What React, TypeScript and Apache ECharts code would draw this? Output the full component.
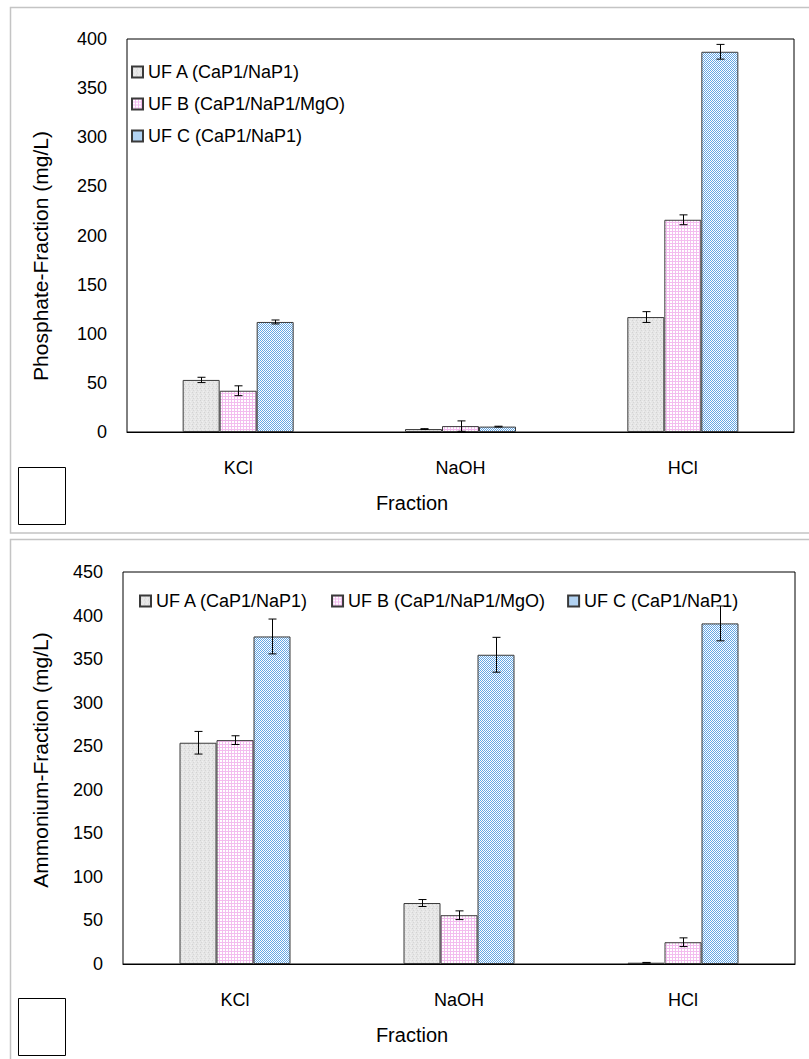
import React, { useEffect, useRef } from "react";
import * as echarts from "echarts";

const categories = ["KCl", "NaOH", "HCl"];
const seriesNames = ["UF A (CaP1/NaP1)", "UF B (CaP1/NaP1/MgO)", "UF C (CaP1/NaP1)"];

// Phosphate (top chart)
const phosphateA = [53, 3, 117];
const phosphateB = [42, 6, 216];
const phosphateC = [112, 5.5, 387];
const phosphateErrA = [2.7, 0.4, 5.5];
const phosphateErrB = [5, 5.3, 5];
const phosphateErrC = [2, 0.4, 7.5];

// Ammonium (bottom chart)
const ammoniumA = [254, 70, 1.5];
const ammoniumB = [257, 56, 25];
const ammoniumC = [376, 355, 391];
const ammoniumErrA = [13, 4, 0.3];
const ammoniumErrB = [5, 5, 5];
const ammoniumErrC = [20, 20, 20];

const phosphateMax = 400;
const ammoniumMax = 450;
const tickStep = 50;

const FONT = '"Liberation Sans", Arial, sans-serif';

function makePattern(size: number, draw: (ctx: CanvasRenderingContext2D) => void) {
  const c = document.createElement("canvas");
  c.width = size;
  c.height = size;
  const ctx = c.getContext("2d") as CanvasRenderingContext2D;
  draw(ctx);
  return { image: c, repeat: "repeat", imageWidth: size, imageHeight: size } as any;
}

function px(ctx: CanvasRenderingContext2D, x: number, y: number, color: string) {
  ctx.fillStyle = color;
  ctx.fillRect(x, y, 1, 1);
}

export default function App() {
  const ref = useRef<HTMLDivElement>(null);

  useEffect(() => {
    if (!ref.current) return;
    const chart = echarts.init(ref.current, null, { renderer: "svg" });

    const patA = makePattern(4, (ctx) => {
      ctx.fillStyle = "#e6e6e6";
      ctx.fillRect(0, 0, 4, 4);
      px(ctx, 0, 0, "#d2d2d2");
      px(ctx, 2, 1, "#f0f0f0");
      px(ctx, 1, 2, "#d6d6d6");
      px(ctx, 3, 3, "#efefef");
    });
    const patB = makePattern(3, (ctx) => {
      ctx.fillStyle = "#ffffff";
      ctx.fillRect(0, 0, 3, 3);
      ctx.fillStyle = "#f3bdef";
      ctx.fillRect(0, 0, 1, 3);
      ctx.fillRect(0, 0, 3, 1);
    });
    const patC = makePattern(2, (ctx) => {
      ctx.fillStyle = "#64a6e4";
      ctx.fillRect(0, 0, 2, 2);
      px(ctx, 1, 0, "#ffffff");
      px(ctx, 0, 1, "#ffffff");
    });
    const patterns = [patA, patB, patC];

    const barWidth = 37;
    const offsets = [-barWidth, 0, barWidth];

    const barSeries = (name: string, data: number[], idx: number, axis: number) => ({
      type: "bar",
      name,
      xAxisIndex: axis,
      yAxisIndex: axis,
      data,
      barWidth,
      barGap: "0%",
      itemStyle: { color: patterns[idx], borderColor: "#3a3a3a", borderWidth: 1 },
      z: 2,
    });

    const errSeries = (values: number[], errs: number[], idx: number, axis: number) => ({
      type: "custom",
      name: "err" + axis + "-" + idx,
      xAxisIndex: axis,
      yAxisIndex: axis,
      silent: true,
      z: 5,
      data: values.map((v, i) => [i, v, errs[i]]),
      encode: { x: 0, y: 1 },
      renderItem: (params: any, api: any) => {
        const ci = api.value(0);
        const v = api.value(1);
        const e = api.value(2);
        const hi = api.coord([ci, v + e]);
        const lo = api.coord([ci, Math.max(0, v - e)]);
        const x = Math.round(hi[0] + offsets[idx]) + 0.5;
        const w = 4;
        const style = { stroke: "#000", lineWidth: 1 };
        return {
          type: "group",
          children: [
            { type: "line", shape: { x1: x, y1: hi[1], x2: x, y2: lo[1] }, style },
            { type: "line", shape: { x1: x - w, y1: hi[1], x2: x + w, y2: hi[1] }, style },
            { type: "line", shape: { x1: x - w, y1: lo[1], x2: x + w, y2: lo[1] }, style },
          ],
        };
      },
    });

    const xAxisBase = (gridIndex: number) => ({
      type: "category",
      gridIndex,
      data: categories,
      boundaryGap: true,
      axisLine: { show: true, lineStyle: { color: "#000", width: 1 } },
      axisTick: { show: false },
      axisLabel: { color: "#000", fontSize: 18, fontFamily: FONT, margin: 27 },
      splitLine: { show: false },
    });
    const yAxisBase = (gridIndex: number, max: number) => ({
      type: "value",
      gridIndex,
      min: 0,
      max,
      interval: tickStep,
      axisLine: { show: false },
      axisTick: { show: false },
      splitLine: { show: false },
      axisLabel: { color: "#000", fontSize: 18, fontFamily: FONT, margin: 20 },
    });

    const legendText = { color: "#000", fontSize: 18, fontFamily: FONT };

    chart.setOption({
      animation: false,
      backgroundColor: "#fff",
      textStyle: { fontFamily: FONT },
      grid: [
        { left: 127, top: 39, width: 667, height: 393, show: true, borderColor: "#000", borderWidth: 1, backgroundColor: "transparent" },
        { left: 123, top: 572, width: 672, height: 392, show: true, borderColor: "#000", borderWidth: 1, backgroundColor: "transparent" },
      ],
      xAxis: [xAxisBase(0), xAxisBase(1)],
      yAxis: [yAxisBase(0, phosphateMax), yAxisBase(1, ammoniumMax)],
      legend: [
        {
          data: seriesNames,
          orient: "vertical",
          left: 131,
          top: 63,
          padding: 0,
          itemWidth: 11,
          itemHeight: 11,
          itemGap: 14,
          icon: "rect",
          textStyle: legendText,
          selectedMode: false,
        },
        {
          data: seriesNames,
          orient: "horizontal",
          left: 139,
          top: 592,
          padding: 0,
          itemWidth: 11,
          itemHeight: 11,
          itemGap: 22,
          icon: "rect",
          textStyle: legendText,
          selectedMode: false,
        },
      ],
      series: [
        barSeries(seriesNames[0], phosphateA, 0, 0),
        barSeries(seriesNames[1], phosphateB, 1, 0),
        barSeries(seriesNames[2], phosphateC, 2, 0),
        barSeries(seriesNames[0], ammoniumA, 0, 1),
        barSeries(seriesNames[1], ammoniumB, 1, 1),
        barSeries(seriesNames[2], ammoniumC, 2, 1),
        errSeries(phosphateA, phosphateErrA, 0, 0),
        errSeries(phosphateB, phosphateErrB, 1, 0),
        errSeries(phosphateC, phosphateErrC, 2, 0),
        errSeries(ammoniumA, ammoniumErrA, 0, 1),
        errSeries(ammoniumB, ammoniumErrB, 1, 1),
        errSeries(ammoniumC, ammoniumErrC, 2, 1),
      ],
      graphic: [
        { type: "rect", z: -1, shape: { x: 10.5, y: 7.5, width: 820, height: 525.5 }, style: { fill: "none", stroke: "#c4c4c4", lineWidth: 1.5 } },
        { type: "rect", z: -1, shape: { x: 10.5, y: 539.5, width: 820, height: 560 }, style: { fill: "none", stroke: "#c4c4c4", lineWidth: 1.5 } },
        { type: "rect", shape: { x: 18.5, y: 467.5, width: 47, height: 57 }, style: { fill: "#fff", stroke: "#000", lineWidth: 1 } },
        { type: "rect", shape: { x: 18.5, y: 998.5, width: 47, height: 57 }, style: { fill: "#fff", stroke: "#000", lineWidth: 1 } },
        {
          type: "text",
          x: 40,
          y: 256,
          rotation: Math.PI / 2,
          style: { text: "Phosphate-Fraction (mg/L)", fill: "#000", font: `21px ${FONT}`, align: "center", verticalAlign: "middle" },
        },
        {
          type: "text",
          x: 40,
          y: 760,
          rotation: Math.PI / 2,
          style: { text: "Ammonium-Fraction (mg/L)", fill: "#000", font: `21px ${FONT}`, align: "center", verticalAlign: "middle" },
        },
        {
          type: "text",
          x: 412,
          y: 503,
          style: { text: "Fraction", fill: "#000", font: `20px ${FONT}`, align: "center", verticalAlign: "middle" },
        },
        {
          type: "text",
          x: 412,
          y: 1035,
          style: { text: "Fraction", fill: "#000", font: `20px ${FONT}`, align: "center", verticalAlign: "middle" },
        },
      ],
    });

    return () => chart.dispose();
  }, []);

  return (
    <div
      ref={ref}
      style={{ position: "absolute", left: 0, top: 0, width: 809, height: 1059, background: "#fff" }}
    />
  );
}
